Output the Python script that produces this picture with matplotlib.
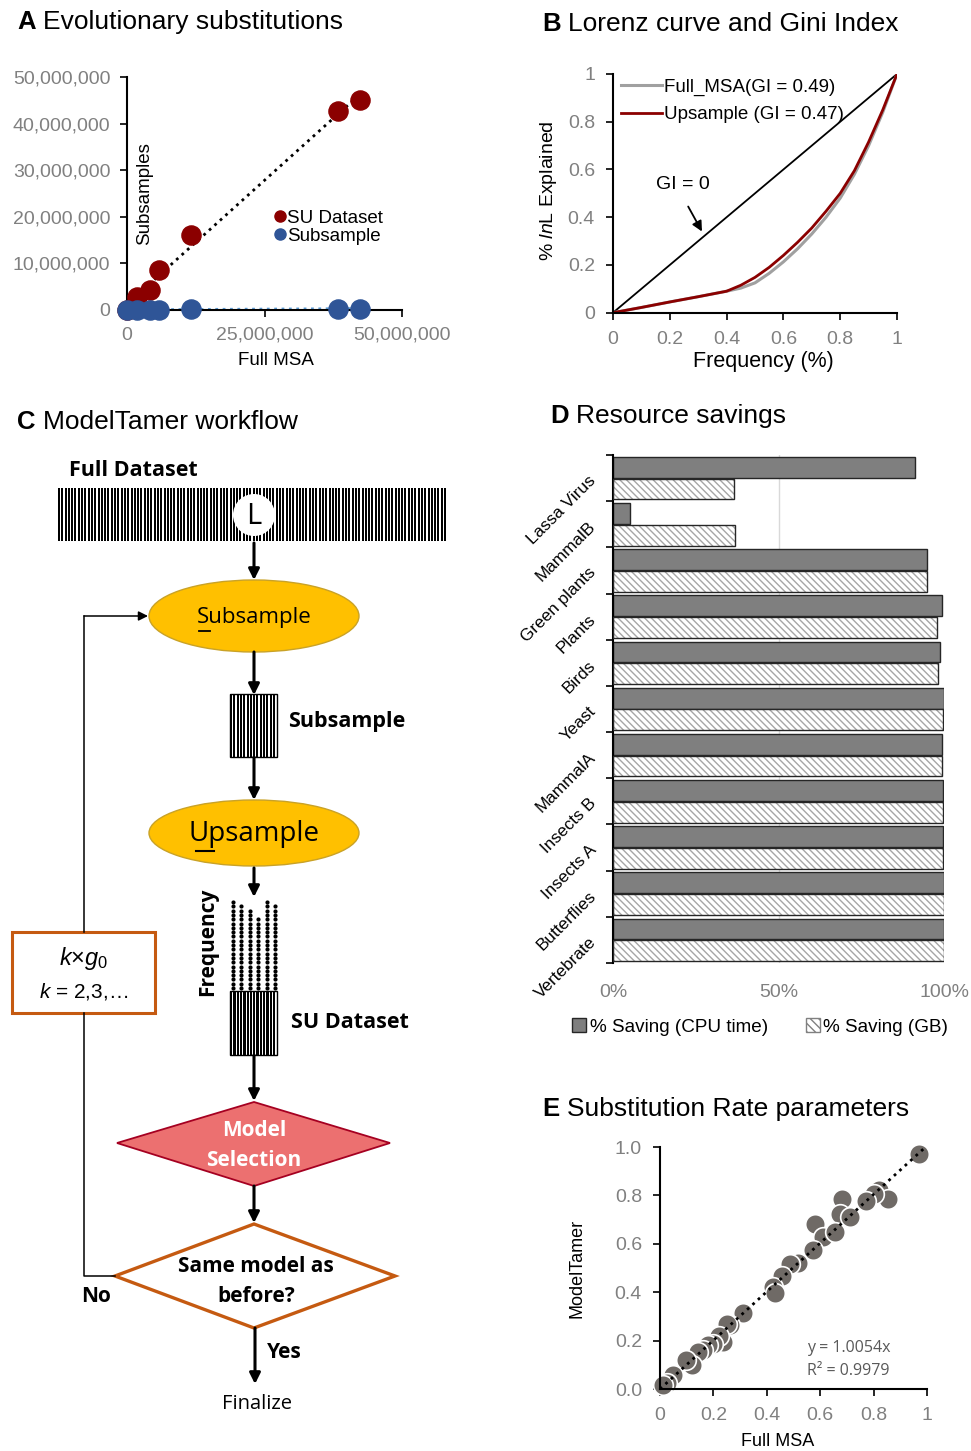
import numpy as np
import matplotlib
matplotlib.use('Agg')
import matplotlib.pyplot as plt
from matplotlib.patches import Ellipse, Polygon, Rectangle, Circle, Patch
from matplotlib.lines import Line2D
from matplotlib.ticker import FuncFormatter

W, H = 971, 1451

# ---- data ----
# A: evolutionary substitutions
full_msa = [0, 1.9e6, 4.2e6, 5.8e6, 11.6e6, 38.3e6, 42.4e6]
su_dataset = [0, 2.85e6, 4.3e6, 8.6e6, 16.0e6, 42.6e6, 45.1e6]
subsample = [0.02e6, 0.05e6, 0.08e6, 0.1e6, 0.15e6, 0.25e6, 0.3e6]

# B: Lorenz curves
freq = [0, 0.1, 0.2, 0.3, 0.4, 0.45, 0.5, 0.55, 0.6, 0.65, 0.7, 0.75, 0.8, 0.85, 0.9, 0.95, 1.0]
lorenz_full = [0, 0.022, 0.045, 0.067, 0.09, 0.103, 0.125, 0.165, 0.213, 0.268, 0.33, 0.40, 0.48, 0.58, 0.70, 0.84, 1.0]
lorenz_up = [0, 0.022, 0.045, 0.067, 0.09, 0.115, 0.148, 0.19, 0.24, 0.295, 0.355, 0.425, 0.50, 0.595, 0.715, 0.85, 1.0]

# C: upsampled column frequencies (dots per column)
su_freq = [21, 20, 19, 17, 21, 20]

# D: resource savings
datasets = ['Lassa Virus', 'MammalB', 'Green plants', 'Plants', 'Birds', 'Yeast',
            'MammalA', 'Insects B', 'Insects A', 'Butterflies', 'Vertebrate']
save_cpu = [0.911, 0.052, 0.95, 0.994, 0.989, 1.0, 0.994, 0.997, 0.998, 1.0, 1.0]
save_gb = [0.365, 0.37, 0.95, 0.978, 0.981, 0.998, 0.994, 0.997, 0.998, 1.0, 1.0]

# E: substitution rate parameters
rate_full = [0.971, 0.822, 0.853, 0.803, 0.772, 0.682, 0.675, 0.71, 0.579, 0.61, 0.654,
             0.573, 0.517, 0.486, 0.458, 0.423, 0.43, 0.309, 0.264, 0.25, 0.237, 0.222,
             0.2, 0.18, 0.162, 0.143, 0.118, 0.097, 0.05, 0.025, 0.012]
rate_mt = [0.970, 0.821, 0.787, 0.807, 0.777, 0.784, 0.722, 0.711, 0.681, 0.629, 0.649,
           0.574, 0.519, 0.515, 0.468, 0.422, 0.395, 0.315, 0.264, 0.27, 0.195, 0.219,
           0.188, 0.18, 0.161, 0.154, 0.099, 0.12, 0.058, 0.023, 0.017]
slope_e = 1.0054

plt.rcParams['font.family'] = ['Liberation Sans', 'DejaVu Sans']
plt.rcParams['mathtext.fontset'] = 'custom'
plt.rcParams['mathtext.rm'] = 'Liberation Sans'
plt.rcParams['mathtext.it'] = 'Liberation Sans:italic'
plt.rcParams['hatch.linewidth'] = 1.0

GRAY = '#808080'
FLOW = ['Open Sans', 'DejaVu Sans']


def rect(l, t, r, b):
    return [l / W, 1 - b / H, (r - l) / W, (b - t) / H]


fig = plt.figure(figsize=(W / 100, H / 100), dpi=100)

# overlay in pixel coordinates for the flowchart and titles
ov = fig.add_axes([0, 0, 1, 1])
ov.set_xlim(0, W)
ov.set_ylim(H, 0)
ov.set_axis_off()

for letter, title, x0, x1, y in [('A', 'Evolutionary substitutions', 17, 43, 22),
                                  ('B', 'Lorenz curve and Gini Index', 542, 568, 24),
                                  ('C', 'ModelTamer workflow', 17, 43, 422),
                                  ('D', 'Resource savings', 550, 576, 416),
                                  ('E', 'Substitution Rate parameters', 542, 567, 1109)]:
    ov.text(x0, y, letter, fontsize=18.5, fontweight='bold', va='center', ha='left')
    ov.text(x1, y, title, fontsize=19, va='center', ha='left')

# ---- A ----
axA = fig.add_axes(rect(127, 77, 402, 310))
coef_su = np.polyfit(full_msa, su_dataset, 1)
xs = np.array([min(full_msa), max(full_msa)])
axA.plot(xs, np.polyval(coef_su, xs), ':', color='black', lw=2, zorder=2)
coef_sub = np.polyfit(full_msa, subsample, 1)
axA.plot(xs, np.polyval(coef_sub, xs), ':', color='#5B9BD5', lw=2, zorder=2)
axA.scatter(full_msa, su_dataset, s=190, color='#8B0000', zorder=3, clip_on=False)
axA.scatter(full_msa, subsample, s=190, color='#2F5597', zorder=4, clip_on=False)
axA.set_xlim(0, 50e6)
axA.set_ylim(0, 50e6)
axA.set_xticks([0, 25e6, 50e6])
axA.set_yticks(np.arange(0, 50e6 + 1, 10e6))
fmt = FuncFormatter(lambda v, _: f'{v:,.0f}')
axA.xaxis.set_major_formatter(fmt)
axA.yaxis.set_major_formatter(fmt)
for s in ['top', 'right']:
    axA.spines[s].set_visible(False)
for s in ['left', 'bottom']:
    axA.spines[s].set_linewidth(1.5)
axA.tick_params(labelsize=14, labelcolor=GRAY, length=5, width=1.2, pad=7)
axA.set_xlabel('Full MSA', fontsize=13.5)
axA.xaxis.set_label_coords(0.54, -0.18)
axA.text(0.065, 0.5, 'Subsamples', transform=axA.transAxes, rotation=90,
         fontsize=13.5, ha='center', va='center')
hA = [Line2D([], [], ls='', marker='o', ms=8, color='#8B0000'),
      Line2D([], [], ls='', marker='o', ms=8, color='#2F5597')]
axA.legend(hA, ['SU Dataset', 'Subsample'], loc='center left', bbox_to_anchor=(0.48, 0.355),
           frameon=False, fontsize=13.5, handletextpad=-0.2, labelspacing=0.05,
           handlelength=1.2, borderpad=0)

# ---- B ----
axB = fig.add_axes(rect(613, 74, 897, 312.7))
axB.plot([0, 1], [0, 1], color='black', lw=1.3)
axB.plot(freq, lorenz_full, color='#A0A0A0', lw=2.2, label='Full_MSA(GI = 0.49)')
axB.plot(freq, lorenz_up, color='#8B0000', lw=2.0, label='Upsample (GI = 0.47)')
axB.set_xlim(0, 1)
axB.set_ylim(0, 1)
axB.set_xticks(np.arange(0, 1.01, 0.2))
axB.set_yticks(np.arange(0, 1.01, 0.2))
fmtg = FuncFormatter(lambda v, _: f'{v:.1f}'.rstrip('0').rstrip('.') if v not in (0, 1) else f'{v:.0f}')
axB.xaxis.set_major_formatter(fmtg)
axB.yaxis.set_major_formatter(fmtg)
for s in ['top', 'right']:
    axB.spines[s].set_visible(False)
for s in ['left', 'bottom']:
    axB.spines[s].set_linewidth(1.5)
axB.tick_params(labelsize=14, labelcolor=GRAY, length=5, width=1.2, pad=8)
axB.set_xlabel('Frequency (%)', fontsize=15.5)
axB.xaxis.set_label_coords(0.53, -0.16)
axB.set_ylabel(r'$\%\ \mathit{ln}\mathrm{L\ Explained}$', fontsize=14)
axB.yaxis.set_label_coords(-0.19, 0.51)
axB.annotate('', xy=(0.318, 0.33), xytext=(0.26, 0.455),
             arrowprops=dict(arrowstyle='-|>', color='black', lw=1.3, mutation_scale=15))
axB.text(0.245, 0.535, 'GI = 0', fontsize=14, ha='center', va='center')
axB.legend(loc='upper left', bbox_to_anchor=(-0.005, 1.02), frameon=False, fontsize=13.5,
           handlelength=2.2, handletextpad=0.1, labelspacing=0.55, borderpad=0)

# ---- C: flowchart ----
def arrow(x, y0, y1, lw=2.2):
    ov.annotate('', xy=(x, y1), xytext=(x, y0),
                arrowprops=dict(arrowstyle='-|>', color='black', lw=lw,
                                mutation_scale=16, shrinkA=0, shrinkB=0))


def stripes(x0, x1, y0, y1, period=3.3, bw=2.0, box=False):
    xs_ = np.arange(x0, x1 - bw + 0.01, period)
    ov.bar(xs_, y1 - y0, width=bw, bottom=y0, align='edge', color='black', lw=0)
    if box:
        ov.add_patch(Rectangle((x0, y0), x1 - x0, y1 - y0, fc='none', ec='black', lw=1))


ov.text(69, 470, 'Full Dataset', family=FLOW, fontsize=15.5, fontweight='bold', va='center')
stripes(58, 448, 488, 541)
ov.add_patch(Circle((254, 515), 21, fc='white', ec='none', zorder=3))
ov.text(254, 516, 'L', family=FLOW, fontsize=21, ha='center', va='center', zorder=4)
arrow(254, 543, 580)

ov.add_patch(Ellipse((254, 616), 210, 72, fc='#FFC000', ec='#C9A227', lw=1))
ov.text(254, 617, 'Subsample', family=FLOW, fontsize=16, ha='center', va='center')
ov.plot([199, 210], [631, 631], color='black', lw=1.3)
arrow(254, 652, 695)

stripes(230, 277, 694, 757, box=True)
ov.text(288, 722, 'Subsample', family=FLOW, fontsize=15.5, fontweight='bold', va='center')
arrow(254, 757, 800)

ov.add_patch(Ellipse((254, 833), 210, 66, fc='#FFC000', ec='#C9A227', lw=1))
ov.text(254, 834, 'Upsample', family=FLOW, fontsize=20, ha='center', va='center')
ov.plot([196, 214], [851, 851], color='black', lw=1.5)
arrow(254, 868, 897)

col_x = 233 + 8.4 * np.arange(len(su_freq))
for cx, n in zip(col_x, su_freq):
    ys = 988 - 4.3 * np.arange(n)
    ov.scatter(np.full(n, cx), ys, s=9, color='black', lw=0)
ov.text(208, 942, 'Frequency', family=FLOW, fontsize=15, fontweight='bold', rotation=90,
        ha='center', va='center')
stripes(230, 277, 991, 1055, period=3.3, bw=2.3, box=True)
ov.text(291, 1023, 'SU Dataset', family=FLOW, fontsize=15.5, fontweight='bold', va='center')
arrow(254, 1055, 1101)

ov.add_patch(Polygon([(254, 1102), (390, 1143), (254, 1186), (117, 1143)],
                     fc='#EC7070', ec='#A50021', lw=1.3))
ov.text(254, 1131, 'Model', family=FLOW, fontsize=15, fontweight='bold', color='white',
        ha='center', va='center')
ov.text(254, 1160, 'Selection', family=FLOW, fontsize=15, fontweight='bold', color='white',
        ha='center', va='center')
arrow(254, 1186, 1223)

ov.add_patch(Polygon([(254, 1224), (395, 1276), (254, 1328), (115, 1276)],
                     fc='white', ec='#C55A11', lw=2.4))
ov.text(256, 1267, 'Same model as', family=FLOW, fontsize=15, fontweight='bold',
        ha='center', va='center')
ov.text(256, 1297, 'before?', family=FLOW, fontsize=15, fontweight='bold',
        ha='center', va='center')

ov.plot([115, 84, 84], [1276, 1276, 1013], color='black', lw=1.1)
ov.add_patch(Rectangle((12, 932), 143, 81, fc='white', ec='#C55A11', lw=2.2))
ov.text(84, 959, r'$k$×$g_0$', fontsize=17, ha='center', va='center')
ov.text(84, 992, r'$k$ = 2,3,…', fontsize=15, ha='center', va='center')
ov.plot([84, 84], [932, 616], color='black', lw=1.1)
ov.annotate('', xy=(148, 616), xytext=(84, 616),
            arrowprops=dict(arrowstyle='-|>', color='black', lw=1.1, mutation_scale=14,
                            shrinkA=0, shrinkB=0))

ov.text(96, 1296, 'No', family=FLOW, fontsize=15, fontweight='bold', ha='center', va='center')
arrow(255, 1328, 1384)
ov.text(267, 1353, 'Yes', family=FLOW, fontsize=15, fontweight='bold', va='center')
ov.text(257, 1404, 'Finalize', family=FLOW, fontsize=14.5, ha='center', va='center')

# ---- D ----
axD = fig.add_axes(rect(613, 455, 944, 963))
idx = np.arange(len(datasets))
axD.axvline(0.5, color='#D9D9D9', lw=1, zorder=0)
axD.barh(idx - 0.235, save_cpu, height=0.45, color='#7F7F7F', ec='#262626', lw=1, zorder=2)
axD.barh(idx + 0.235, save_gb, height=0.45, color='white', ec='#A6A6A6', lw=0,
         hatch='\\\\\\\\\\', zorder=2)
axD.barh(idx + 0.235, save_gb, height=0.45, color='none', ec='#262626', lw=1, zorder=3)
axD.set_ylim(len(datasets) - 0.5, -0.5)
axD.set_xlim(0, 1)
axD.set_xticks([0, 0.5, 1])
axD.xaxis.set_major_formatter(FuncFormatter(lambda v, _: f'{v:.0%}'))
axD.set_yticks(np.arange(-0.5, len(datasets), 1))
axD.set_yticklabels([])
axD.set_yticks(idx, minor=True)
axD.set_yticklabels(datasets, minor=True, rotation=45, rotation_mode='anchor',
                    ha='right', va='center', fontsize=12.3)
axD.tick_params(axis='y', which='major', length=5, width=1.2)
axD.tick_params(axis='y', which='minor', length=0, pad=14)
axD.tick_params(axis='x', length=0, labelsize=14, labelcolor=GRAY, pad=15)
for s in ['top', 'right', 'bottom']:
    axD.spines[s].set_visible(False)
axD.spines['left'].set_linewidth(1.5)
hD = [Patch(fc='#7F7F7F', ec='#262626', lw=1),
      Patch(fc='white', ec='#808080', lw=1, hatch='\\\\\\\\')]
fig.legend(hD, ['% Saving (CPU time)', '% Saving (GB)'], loc='center',
           bbox_to_anchor=(760 / W, 1 - 1027 / H), ncol=2, frameon=False, fontsize=13.6,
           handlelength=0.75, handleheight=0.75, handletextpad=0.2, columnspacing=2.0)

# ---- E ----
axE = fig.add_axes(rect(660, 1147, 927, 1389))
axE.plot([0, 1], [0, slope_e], ':', color='black', lw=2, zorder=3)
axE.scatter(rate_full, rate_mt, s=200, color='#6F6A66', ec='white', lw=1.2, zorder=2,
            clip_on=False)
axE.set_xlim(0, 1)
axE.set_ylim(0, 1)
axE.set_xticks(np.arange(0, 1.01, 0.2))
axE.set_yticks(np.arange(0, 1.01, 0.2))
axE.xaxis.set_major_formatter(fmtg)
axE.yaxis.set_major_formatter(FuncFormatter(lambda v, _: f'{v:.1f}'))
for s in ['top', 'right']:
    axE.spines[s].set_visible(False)
for s in ['left', 'bottom']:
    axE.spines[s].set_linewidth(1.5)
axE.tick_params(labelsize=14, labelcolor=GRAY, length=5, width=1.2, pad=8)
axE.set_xlabel('Full MSA', fontsize=13)
axE.xaxis.set_label_coords(0.44, -0.18)
axE.set_ylabel('ModelTamer', fontsize=13)
axE.yaxis.set_label_coords(-0.28, 0.5)
axE.text(0.55, 0.17, 'y = 1.0054x', fontsize=11.5, color='#595959', va='center',
         family=['Open Sans', 'DejaVu Sans'])
axE.text(0.55, 0.075, 'R² = 0.9979', fontsize=11.5, color='#595959', va='center',
         family=['Open Sans', 'DejaVu Sans'])

fig.savefig('out.png', dpi=100)
